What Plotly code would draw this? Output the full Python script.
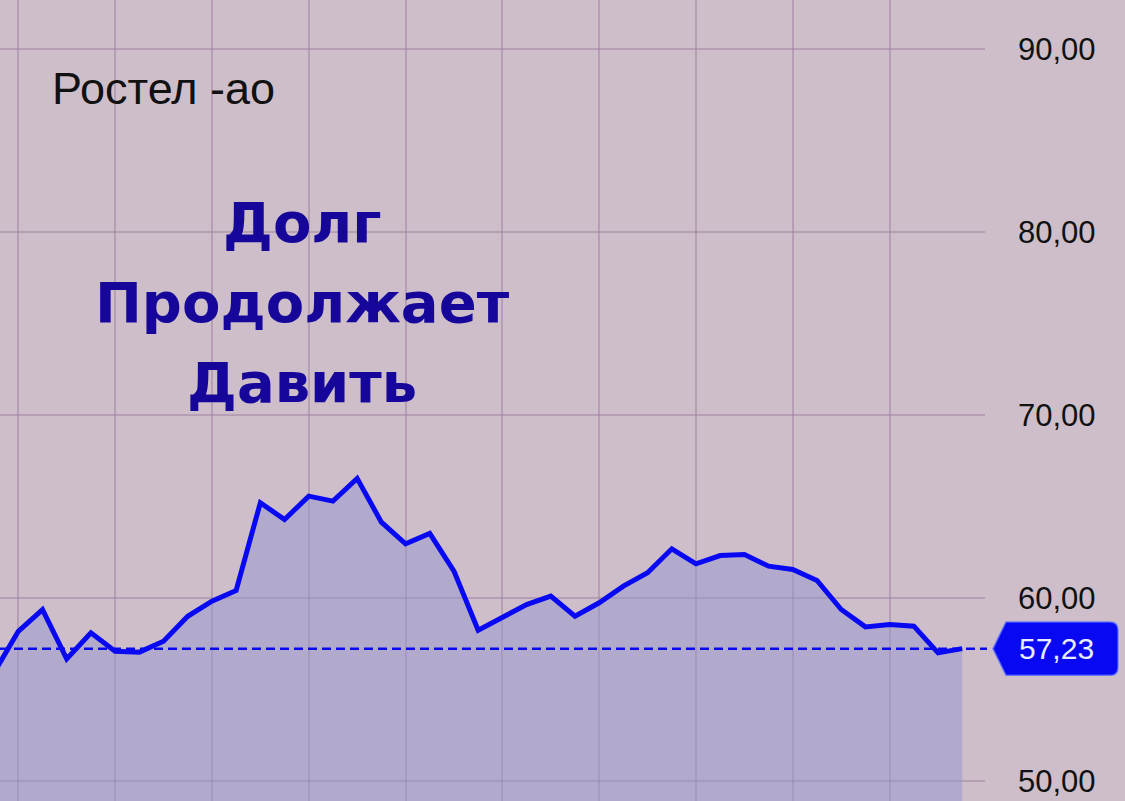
import plotly.graph_objects as go

# ---- data ----
idx = list(range(41))
price = [55.92, 58.18, 59.37, 56.67, 58.10, 57.09, 57.04, 57.64, 59.00, 59.83,
         60.41, 65.21, 64.29, 65.57, 65.30, 66.54, 64.15, 62.96, 63.53, 61.47,
         58.24, 58.92, 59.64, 60.10, 59.00, 59.74, 60.65, 61.38, 62.69, 61.87,
         62.32, 62.38, 61.74, 61.56, 60.96, 59.37, 58.42, 58.55, 58.46, 57.00,
         57.23]
y_ticks = [50, 60, 70, 80, 90]
x_grid = [1, 5, 9, 13, 17, 21, 25, 29, 33, 37]
ticker = "Ростел -ао"
headline = ["Долг", "Продолжает", "Давить"]

BG = "#cdbeca"
BLUE = "#0808f2"
GRID = "rgba(160,128,160,0.5)"

W, H = 1125, 801
ML, MR, MT, MB = 0, 140, 0, 0
PW, PH = W - ML - MR, H - MT - MB

last = price[-1]

fig = go.Figure()
fig.add_trace(go.Scatter(
    x=idx, y=price, mode="lines",
    line=dict(color=BLUE, width=5, shape="linear"),
    fill="tozeroy", fillcolor="rgba(149,150,208,0.5)",
    hoverinfo="skip", showlegend=False,
))

# last price dashed line
fig.add_shape(type="line", xref="paper", yref="y",
              x0=0, x1=987 / PW, y0=last, y1=last,
              line=dict(color=BLUE, width=2.5, dash="9px,5px"), layer="above")

# last price label box (pentagon with rounded right corners)
hh = 1.46
tip = 993 / PW
lx = 1006 / PW
rx = 1118 / PW
rxr = 8 / PW
ryr = 0.45
path = (f"M {tip},{last} L {lx},{last + hh} L {rx - rxr},{last + hh} "
        f"Q {rx},{last + hh} {rx},{last + hh - ryr} L {rx},{last - hh + ryr} "
        f"Q {rx},{last - hh} {rx - rxr},{last - hh} L {lx},{last - hh} Z")
fig.add_shape(type="path", xref="paper", yref="y", path=path,
              fillcolor=BLUE, line=dict(color="rgba(90,110,255,0.8)", width=1.5),
              layer="above")
fig.add_annotation(xref="paper", yref="y", x=1017 / PW, y=last,
                   xanchor="left", yanchor="middle", showarrow=False,
                   text=f"{last:.2f}".replace(".", ","),
                   font=dict(family="Liberation Sans, Arial", size=30, color="#e8ecff"))

# ticker title
fig.add_annotation(xref="paper", yref="paper", x=50 / PW, y=1 - 88 / PH,
                   xanchor="left", yanchor="middle", showarrow=False,
                   text=ticker,
                   font=dict(family="Liberation Sans, Arial", size=45, color="#111111"))

# headline
for t, cy in zip(headline, [222, 302, 382]):
    fig.add_annotation(xref="paper", yref="paper", x=302 / PW, y=1 - cy / PH,
                       xanchor="center", yanchor="middle", showarrow=False,
                       text=f"<b>{t}</b>",
                       font=dict(family="DejaVu Sans", size=56, color="#16079a"))

fig.update_layout(
    width=W, height=H,
    margin=dict(l=ML, r=MR, t=MT, b=MB, pad=0),
    paper_bgcolor=BG, plot_bgcolor=BG,
    separators=",.",
    showlegend=False,
    xaxis=dict(range=[0.244, 40.94], showticklabels=False, ticks="",
               tickvals=x_grid, showgrid=True, gridcolor=GRID, gridwidth=2,
               zeroline=False, showline=False, fixedrange=True),
    yaxis=dict(range=[48.9, 92.7], side="right", tickvals=y_ticks,
               tickformat=".2f", showgrid=True, gridcolor=GRID, gridwidth=2,
               zeroline=False, showline=False, ticks="",
               ticklabelstandoff=32,
               tickfont=dict(family="Liberation Sans, Arial", size=31, color="#111111")),
)

fig.write_html(
    "out.html",
    config={"displayModeBar": False, "staticPlot": True},
    post_script="document.body.style.margin='0';document.body.style.background='%s';"
                "document.body.style.overflow='hidden';" % BG,
)
